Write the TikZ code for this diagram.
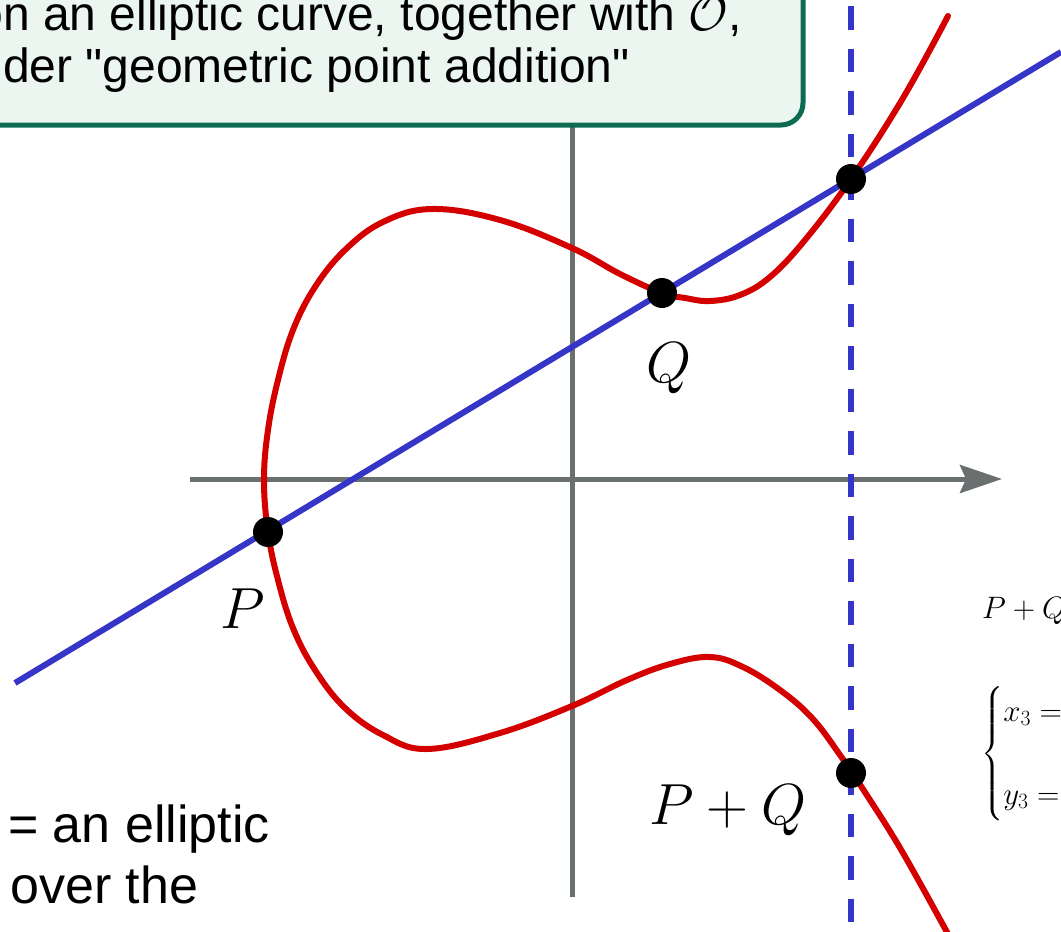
\RequirePackage{fix-cm}
\documentclass[tikz,border=0pt]{standalone}
\usepackage{amsmath}
\usepackage{fontspec}
\setmainfont{Liberation Sans}
\usetikzlibrary{arrows.meta}

\definecolor{axisgray}{HTML}{6A6F70}
\definecolor{ecred}{HTML}{D40000}
\definecolor{lineblue}{HTML}{3535C8}
\definecolor{boxgreen}{HTML}{0D6B52}
\definecolor{boxfill}{HTML}{ECF6F1}

\begin{document}
\begin{tikzpicture}[x=1pt,y=-1pt,>={Stealth[length=42pt,width=28pt,inset=6pt]},
  axis/.style={line width=5pt,color=axisgray},
  curve/.style={line width=6pt,color=ecred,line join=round,line cap=round},
  chord/.style={line width=6pt,color=lineblue},
  dot/.style={circle,fill=black,inner sep=0pt,minimum size=30pt},
  lbl/.style={inner sep=0pt,font=\fontsize{58}{60}\selectfont},
  txt/.style={inner sep=0pt,anchor=base west}]
\useasboundingbox (0,0) rectangle (1061,932);
% axes
\draw[axis,->](190,479)--(1002,479);
\draw[axis](572,100)--(572,897);
% secant and vertical
\coordinate (lineL) at (15,683);
\coordinate (lineR) at (1061,52);
\draw[chord](lineL)--(lineR);
\coordinate (vtop) at (851,6);
\coordinate (vbot) at (851,945);
\draw[chord,dash pattern=on 23.5pt off 19pt](vtop)--(vbot);
% the curve
\draw[curve]plot[smooth,tension=0.65]coordinates{(948,16)(903,98)(851,179)(805,240)(770,277)
(740,295)(710,301)(685,298)(662,293)(620,274)(572,248)(500,220)(432,209)(383,222)
(345,250)(315,287)(293,330)(278,380)(268,430)(264,480)(268,532)(278,580)(293,628)
(315,670)(345,708)(383,735)(427,749)(500,733)(572,706)(627,680)(670,664)(710,657)
(743,667)(780,690)(812,718)(840,755)(870,800)(903,853)(948,934)};
% points
\node[dot] (P) at (268,532) {};
\node[dot] (Q) at (662,293) {};
\node[dot] (R) at (851,179) {};
\node[dot] (PQ) at (851,773) {};
\node[lbl] (Plbl) at (243,609) {$P$};
\node[lbl] (Qlbl) at (669,368) {$Q$};
\node[lbl] (PQlbl) at (728,810) {$P+Q$};
% box on top
\draw[line width=5pt,draw=boxgreen,fill=boxfill,rounded corners=22pt](-60,-60)rectangle(803,125);
\node[inner sep=0pt,anchor=base east,font=\fontsize{48}{53}\selectfont] (boxline1) at (742,30) {on an elliptic curve, together with $\mathcal{O}$,};
\node[txt,font=\fontsize{48}{53}\selectfont] (boxline2) at (3,82) {der \textquotedbl geometric point addition\textquotedbl};
% left text
\node[txt,font=\fontsize{52}{60}\selectfont] (curvetxt1) at (8,842) {= an elliptic};
\node[txt,font=\fontsize{52}{60}\selectfont] (curvetxt2) at (10,903) {over the};
% formula
\node[txt,font=\fontsize{31}{36}\selectfont] (sumtxt) at (982,618) {$P+Q=(x_3,y_3)$};
\node[inner sep=0pt,anchor=west,font=\fontsize{31}{36}\selectfont] (sumcases) at (981,754)
{$\begin{cases}x_3=\lambda^2-x_1-x_2\\[40pt] y_3=\lambda(x_1-x_3)-y_1\end{cases}$};
\end{tikzpicture}
\end{document}
